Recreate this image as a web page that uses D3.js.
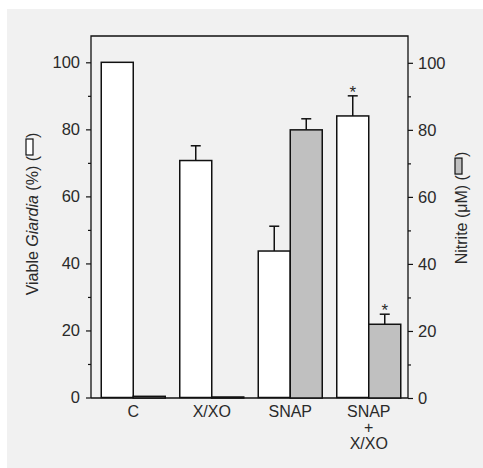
<!DOCTYPE html>
<html>
<head>
<meta charset="utf-8">
<script src="https://cdn.jsdelivr.net/npm/d3@7"></script>
<style>
  body { margin: 0; background: #fff; }
  text { font-family: "Liberation Sans", Arial, sans-serif; fill: #2a2a2a; }
</style>
</head>
<body>
<svg id="chart" width="483" height="468"></svg>
<script>
// data
var groups = ["C", "X/XO", "SNAP", "SNAP+X/XO"];
var groupLabels = [["C"], ["X/XO"], ["SNAP"], ["SNAP", "+", "X/XO"]];
var viable = [100, 70.7, 43.7, 84];       // % (left axis, white bars)
var viableErr = [0, 4.4, 7.4, 6];
var viableStar = [false, false, false, true];
var nitrite = [0.5, 0.3, 80, 22];          // uM (right axis, grey bars)
var nitriteErr = [0, 0, 3.3, 3];
var nitriteStar = [false, false, false, true];
var ticks = [0, 20, 40, 60, 80, 100];
var minorTicks = [10, 30, 50, 70, 90];

var svg = d3.select("#chart");
var plot = {left: 91, right: 408, top: 36, bottom: 398};
var barW = 32;

// light grey panel
svg.append("rect")
    .attr("x", 7).attr("y", 9)
    .attr("width", 476).attr("height", 459)
    .attr("fill", "#f1f1f1");

var x = d3.scaleBand()
    .domain(groups)
    .range([94, 408])
    .padding(0);

var yL = d3.scaleLinear().domain([0, 108]).range([397.5, 35.5]);
var yR = d3.scaleLinear().domain([0, 108]).range([398, 36]);

function center(d) { return x(d) + x.bandwidth() / 2; }

// frame
svg.append("path")
    .attr("d", "M" + plot.left + "," + plot.bottom + "V" + plot.top + "H" + plot.right + "V" + plot.bottom + "H" + plot.left)
    .attr("fill", "none")
    .attr("stroke", "#111")
    .attr("stroke-width", 1.3);

// left axis
var leftAxis = svg.append("g").attr("transform", "translate(" + plot.left + ",0)");
leftAxis.call(d3.axisLeft(yL).tickValues(ticks).tickSize(5).tickPadding(6));
leftAxis.append("g").call(d3.axisLeft(yL).tickValues(minorTicks).tickSize(3).tickFormat(""));
leftAxis.selectAll(".domain").remove();

// right axis
var rightAxis = svg.append("g").attr("transform", "translate(" + plot.right + ",0)");
rightAxis.call(d3.axisRight(yR).tickValues(ticks).tickSize(5).tickPadding(5));
rightAxis.append("g").call(d3.axisRight(yR).tickValues(minorTicks).tickSize(3).tickFormat(""));
rightAxis.selectAll(".domain").remove();

svg.selectAll(".tick line").attr("stroke", "#111").attr("stroke-width", 1.2);
svg.selectAll(".tick text")
    .style("font-family", "'Liberation Sans', Arial, sans-serif")
    .style("font-size", "16.5px")
    .attr("fill", "#2a2a2a");

// white bars (viable, left axis)
svg.selectAll("rect.viable")
    .data(groups)
    .enter()
    .append("rect")
    .attr("class", "viable")
    .attr("x", function (d) { return center(d) - barW; })
    .attr("y", function (d, i) { return yL(viable[i]); })
    .attr("width", barW)
    .attr("height", function (d, i) { return yL(0) - yL(viable[i]); })
    .attr("fill", "#fff")
    .attr("stroke", "#111")
    .attr("stroke-width", 1.5);

// grey bars (nitrite, right axis)
svg.selectAll("rect.nitrite")
    .data(groups)
    .enter()
    .append("rect")
    .attr("class", "nitrite")
    .attr("x", function (d) { return center(d); })
    .attr("y", function (d, i) { return yR(nitrite[i]); })
    .attr("width", barW)
    .attr("height", function (d, i) { return yR(0) - yR(nitrite[i]); })
    .attr("fill", "#c0c0c0")
    .attr("stroke", "#111")
    .attr("stroke-width", 1.5);

// error bars
function errorBars(vals, errs, stars, scale, offset) {
    groups.forEach(function (g, i) {
        if (!errs[i]) return;
        var cx = center(g) + offset;
        var top = scale(vals[i] + errs[i]);
        svg.append("line")
            .attr("x1", cx).attr("x2", cx)
            .attr("y1", scale(vals[i])).attr("y2", top)
            .attr("stroke", "#111").attr("stroke-width", 1.5);
        svg.append("line")
            .attr("x1", cx - 5).attr("x2", cx + 5)
            .attr("y1", top).attr("y2", top)
            .attr("stroke", "#111").attr("stroke-width", 1.5);
        if (stars[i]) {
            svg.append("text")
                .attr("x", cx).attr("y", top + 2)
                .attr("text-anchor", "middle")
                .style("font-size", "17px")
                .text("*");
        }
    });
}
errorBars(viable, viableErr, viableStar, yL, -barW / 2);
errorBars(nitrite, nitriteErr, nitriteStar, yR, barW / 2);

// category labels
groups.forEach(function (g, i) {
    var t = svg.append("text")
        .attr("text-anchor", "middle")
        .attr("y", 417)
        .style("font-size", "16px");
    groupLabels[i].forEach(function (line, j) {
        t.append("tspan")
            .attr("x", center(g))
            .attr("dy", j === 0 ? 0 : 16)
            .text(line);
    });
});

// rotated axis titles with a little legend swatch inside the brackets
function axisTitle(cx, cy, angle, parts, swatchFill) {
    var g = svg.append("g");
    var t = g.append("text").style("font-size", "16px");
    parts.forEach(function (p) {
        t.append("tspan")
            .style("font-style", p.italic ? "italic" : "normal")
            .text(p.s);
    });
    var w1 = t.node().getComputedTextLength();
    g.append("rect")
        .attr("x", w1 + 1).attr("y", -12)
        .attr("width", 16).attr("height", 7)
        .attr("fill", swatchFill)
        .attr("stroke", "#111")
        .attr("stroke-width", 1.2);
    var t2 = g.append("text")
        .attr("x", w1 + 18)
        .style("font-size", "16px")
        .text(")");
    var total = w1 + 18 + t2.node().getComputedTextLength();
    g.selectAll("text, rect").attr("transform", "translate(" + (-total / 2) + ",5)");
    g.attr("transform", "translate(" + cx + "," + cy + ") rotate(" + angle + ")");
}

axisTitle(33, 214, -90,
    [{s: "Viable "}, {s: "Giardia", italic: true}, {s: " (%) ("}], "#fff");
axisTitle(462, 208, -90,
    [{s: "Nitrite (\u03bcM) ("}], "#c0c0c0");
</script>
</body>
</html>
